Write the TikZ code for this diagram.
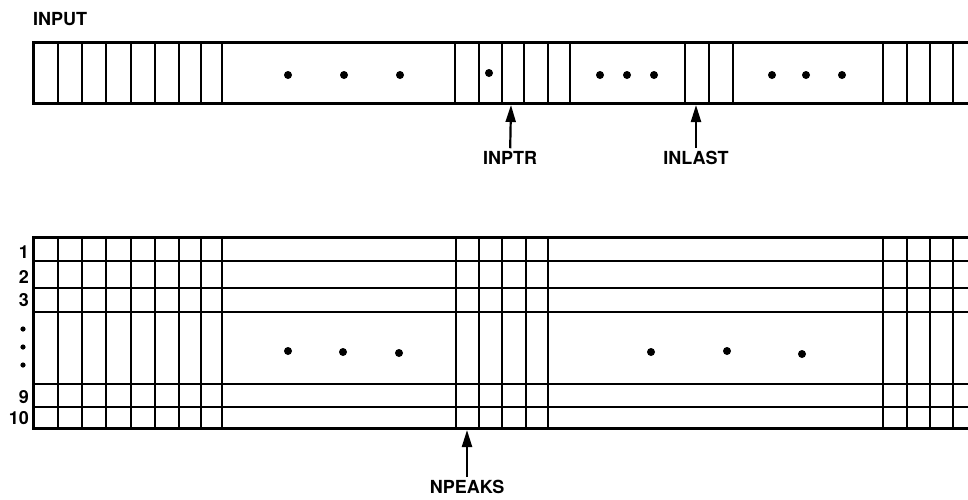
\documentclass[tikz,border=0pt]{standalone}
\usepackage{fontspec}
\setmainfont{TeX Gyre Heros}
\usetikzlibrary{arrows.meta,positioning}
\tikzset{
  frame/.style={line width=3pt},
  cellline/.style={line width=2.4pt},
  lbl/.style={font=\bfseries\fontsize{18}{21}\selectfont, inner sep=3pt},
  rowlbl/.style={font=\bfseries\fontsize{18}{21}\selectfont, anchor=east, inner sep=0pt},
  arr/.style={-{Triangle[length=17pt, width=10pt]}, line width=2.2pt},
}

\begin{document}
\begin{tikzpicture}[x=1pt, y=-1pt]
\useasboundingbox (0,0) rectangle (968,499);

% input buffer
\node[lbl, anchor=west, inner sep=0pt] (input) at (33,19) {INPUT};
\foreach \x in {58,82,106,131,155,179,201,222,455,479,502,524,548,570,685,709,733,883,907,930,953}
  \draw[cellline] (\x,42) -- (\x,103);
\draw[frame] (968,42) -- (33,42) -- (33,103) -- (968,103);
\foreach \x/\y in {288/75,344/75,400/75,489/73,600/75,627/75,654/75,772/75,806/75,842/75}
  \fill (\x,\y) circle (4pt);

% pointers into the buffer
\coordinate (inptrcell) at (511,105);
\coordinate (inlastcell) at (696,105);
\node[lbl] (inptr) at (510,158) {INPTR};
\node[lbl] (inlast) at (696,158) {INLAST};
\draw[arr] (inptr) -- (inptrcell);
\draw[arr] (inlast) -- (inlastcell);

% peak table, 10 rows
\foreach \y in {261,288,312,384,407}
  \draw[cellline] (33,\y) -- (968,\y);
\foreach \x in {58,82,106,131,155,179,201,222,456,479,502,526,548,883,907,930,953}
  \draw[cellline] (\x,237) -- (\x,428);
\draw[frame] (968,237) -- (33,237) -- (33,428) -- (968,428);
\foreach \x/\y in {288/351,343/352,399/353,651/352,727/351,802/354}
  \fill (\x,\y) circle (4pt);

\foreach \n/\y in {1/252,2/277,3/300,9/397,10/418}
  \node[rowlbl] (row\n) at (29,\y) {\n};
\foreach \y in {329,347,365}
  \fill (23,\y) circle (2.6pt);

\coordinate (npeakscell) at (467,430);
\node[lbl] (npeaks) at (467,487) {NPEAKS};
\draw[arr] (npeaks) -- (npeakscell);

\end{tikzpicture}
\end{document}
